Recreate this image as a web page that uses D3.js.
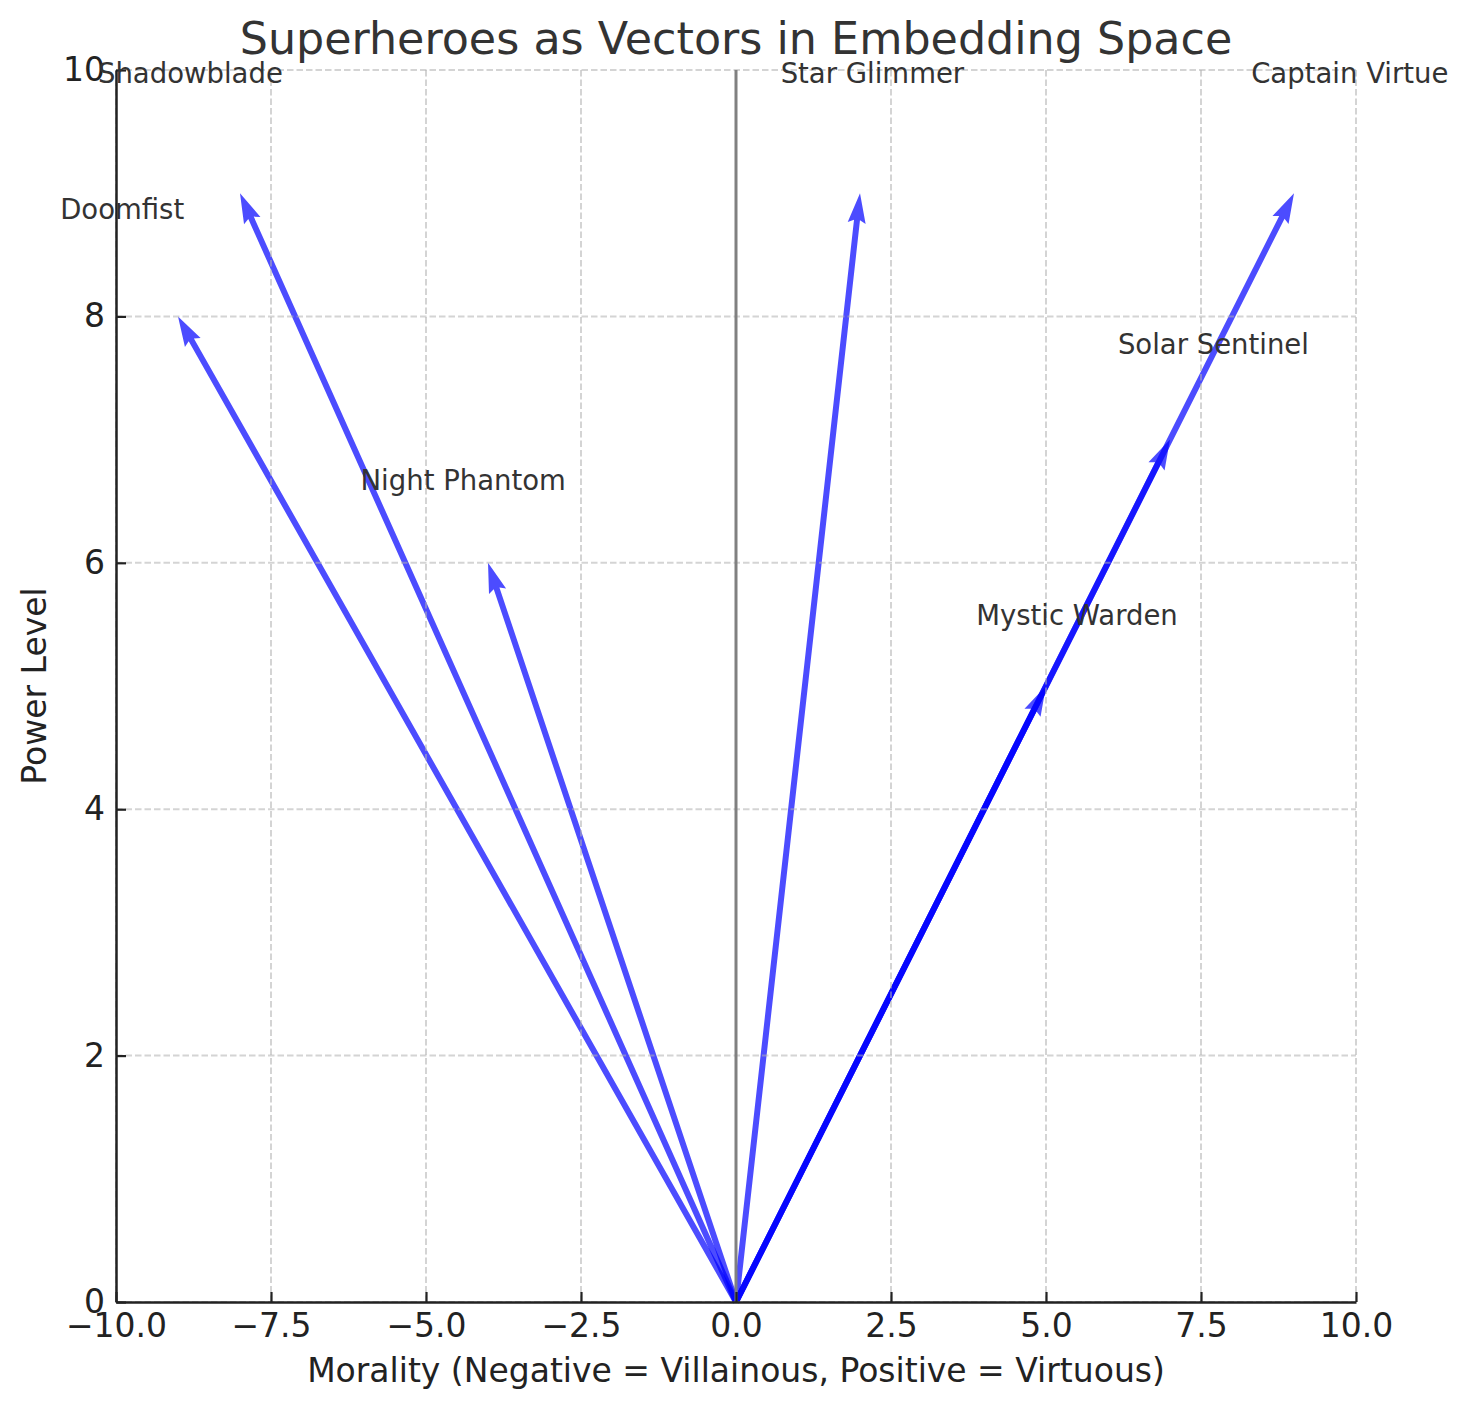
<!DOCTYPE html>
<html>
<head>
<meta charset="utf-8">
<script src="https://cdn.jsdelivr.net/npm/d3@7"></script>
<style>
  body { margin: 0; background: #fff; }
  svg { font-family: "DejaVu Sans", sans-serif; }
</style>
</head>
<body>
<svg id="chart" width="1469" height="1409"></svg>
<script>
// heroes and their (morality, power) vectors
var heroes = ["Captain Virtue", "Shadowblade", "Night Phantom", "Solar Sentinel", "Mystic Warden", "Star Glimmer", "Doomfist"];
var morality = [9, -8, -4, 7, 5, 2, -9];
var power = [9, 9, 6, 7, 5, 9, 8];
var xTicks = [-10, -7.5, -5, -2.5, 0, 2.5, 5, 7.5, 10];
var yTicks = [0, 2, 4, 6, 8, 10];

var svg = d3.select("#chart");

var x = d3.scaleLinear().domain([-10, 10]).range([116, 1356]);
var y = d3.scaleLinear().domain([0, 10]).range([1302, 70]);

var vecs = heroes.map(function(h, i) { return {name: h, u: morality[i], v: power[i]}; });

// quiver style arrow polygon, in shaft-width units
var w = 6, headW = 3, headL = 5, headAx = 4.5;
function arrowPath(d) {
  var x0 = x(0), y0 = y(0), x1 = x(d.u), y1 = y(d.v);
  var dx = x1 - x0, dy = y1 - y0;
  var L = Math.sqrt(dx * dx + dy * dy);
  var ca = dx / L, sa = dy / L;
  var pts = [
    [0, -0.5 * w], [L - headAx * w, -0.5 * w], [L - headL * w, -headW / 2 * w],
    [L, 0], [L - headL * w, headW / 2 * w], [L - headAx * w, 0.5 * w], [0, 0.5 * w]
  ];
  return "M" + pts.map(function(p) {
    return [x0 + p[0] * ca - p[1] * sa, y0 + p[0] * sa + p[1] * ca].join(",");
  }).join("L") + "Z";
}

// arrows first (grid is drawn over them, like the original)
svg.append("g").selectAll("path")
  .data(vecs)
  .enter().append("path")
  .attr("d", arrowPath)
  .attr("fill", "blue")
  .attr("fill-opacity", 0.7);

// grid
var grid = svg.append("g")
  .attr("stroke", "#b0b0b0")
  .attr("stroke-opacity", 0.55)
  .attr("stroke-width", 2)
  .attr("stroke-dasharray", "6.5,3");
grid.selectAll(".gx").data(xTicks).enter().append("line")
  .attr("x1", d => x(d)).attr("x2", d => x(d))
  .attr("y1", y(0)).attr("y2", y(10));
grid.selectAll(".gy").data(yTicks).enter().append("line")
  .attr("x1", x(-10)).attr("x2", x(10))
  .attr("y1", d => y(d)).attr("y2", d => y(d));

// vertical line at x = 0
svg.append("line")
  .attr("x1", x(0)).attr("x2", x(0))
  .attr("y1", y(0)).attr("y2", y(10))
  .attr("stroke", "gray")
  .attr("stroke-width", 3);

// axes
var xAxis = d3.axisBottom(x)
  .tickValues(xTicks)
  .tickFormat(d3.format(".1f"))
  .tickSizeInner(-10).tickSizeOuter(0).tickPadding(12);
var yAxis = d3.axisLeft(y)
  .tickValues(yTicks)
  .tickFormat(d3.format("d"))
  .tickSizeInner(-10).tickSizeOuter(0).tickPadding(11);

var gx = svg.append("g").attr("transform", "translate(0," + y(0) + ")").call(xAxis);
var gy = svg.append("g").attr("transform", "translate(" + x(-10) + ",0)").call(yAxis);
[gx, gy].forEach(function(g) {
  g.select(".domain").attr("stroke", "#222").attr("stroke-width", 2.5);
  g.selectAll(".tick line").attr("stroke", "#222").attr("stroke-width", 2.2);
  g.selectAll(".tick text").attr("fill", "#222")
    .style("font-family", "DejaVu Sans").style("font-size", "33px");
});

// hero labels at 1.1x the vector tip
svg.append("g").selectAll("text")
  .data(vecs)
  .enter().append("text")
  .attr("x", d => x(d.u * 1.1))
  .attr("y", d => y(d.v * 1.1) + 1)
  .attr("text-anchor", "middle")
  .attr("fill", "#333")
  .style("font-size", "27.5px")
  .text(d => d.name);

// title and axis labels
svg.append("text")
  .attr("x", 736).attr("y", 54)
  .attr("text-anchor", "middle")
  .attr("fill", "#333")
  .style("font-size", "44.4px")
  .text("Superheroes as Vectors in Embedding Space");

svg.append("text")
  .attr("x", 736).attr("y", 1382)
  .attr("text-anchor", "middle")
  .attr("fill", "#222")
  .style("font-size", "33px")
  .text("Morality (Negative = Villainous, Positive = Virtuous)");

svg.append("text")
  .attr("transform", "translate(46,686) rotate(-90)")
  .attr("text-anchor", "middle")
  .attr("fill", "#222")
  .style("font-size", "33px")
  .text("Power Level");
</script>
</body>
</html>
